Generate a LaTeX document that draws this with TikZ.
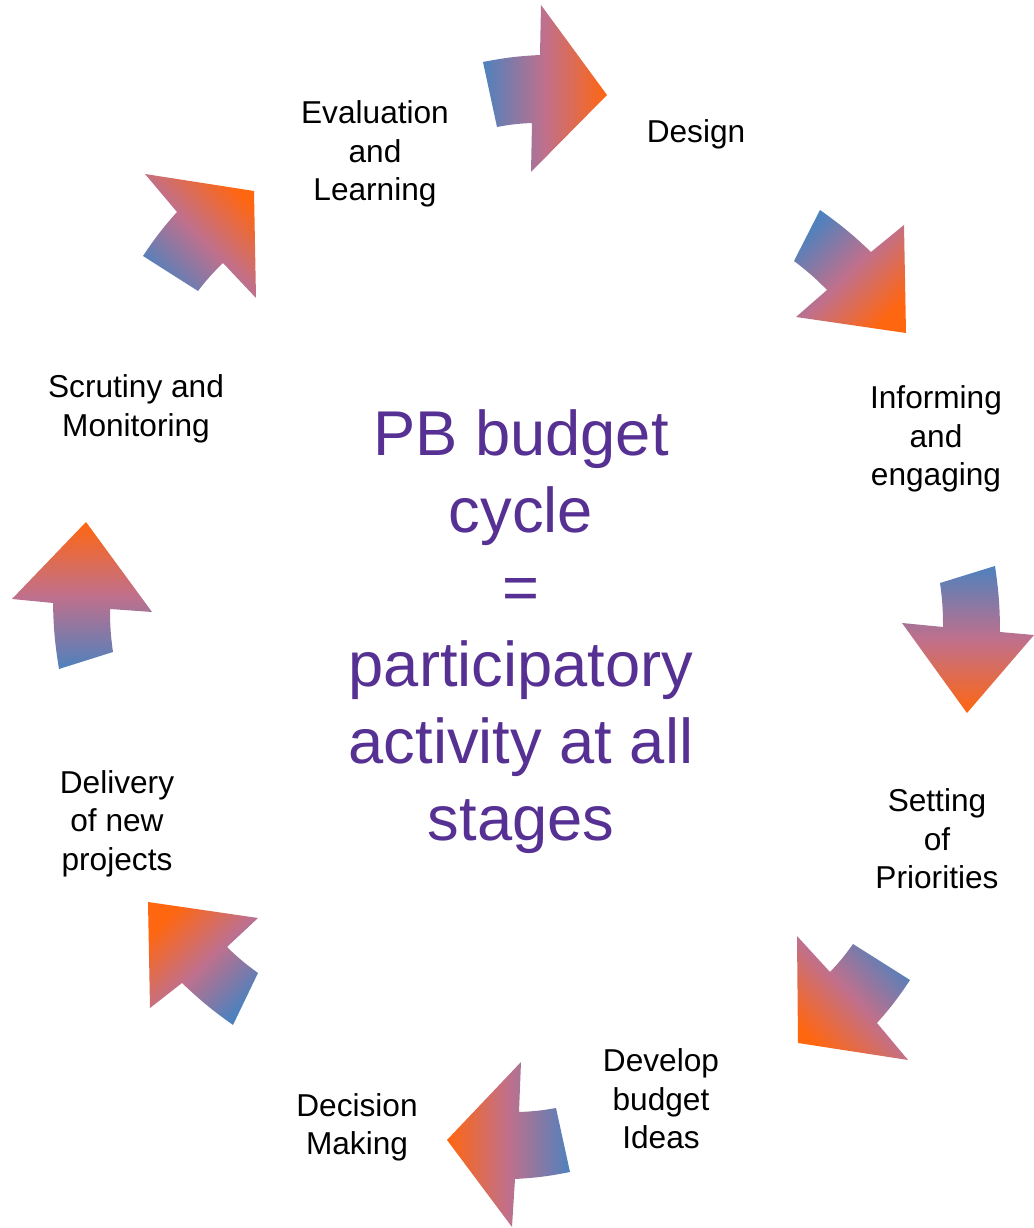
\documentclass[tikz,border=0pt]{standalone}
\usepackage{fontspec}
\setmainfont{Liberation Sans}
\definecolor{cyclepurple}{RGB}{86,48,146}
\definecolor{tailblue}{RGB}{79,129,189}
\definecolor{midpink}{RGB}{192,112,140}
\definecolor{tiporange}{RGB}{255,102,16}
\tikzset{
  stagelabel/.style={align=center, inner sep=0pt, font=\fontsize{22.5}{27.4}\selectfont},
  cyclearrow/.style={top color=tiporange, bottom color=tailblue, middle color=midpink},
}
\begin{document}
\begin{tikzpicture}[x=0.25mm, y=0.25mm]
  \useasboundingbox (0,0) rectangle (1034,1228);

  % Nodes
  \node[stagelabel] (eval) at (375,1074) {Evaluation\\and\\Learning};
  \node[stagelabel] (design) at (696,1094) {Design};
  \node[stagelabel] (inform) at (936,789) {Informing\\and\\engaging};
  \node[stagelabel] (setting) at (937,389) {Setting\\of\\Priorities};
  \node[stagelabel] (develop) at (661,129) {Develop\\budget\\Ideas};
  \node[stagelabel] (decision) at (357,100.5) {Decision\\Making};
  \node[stagelabel] (delivery) at (117,404.5) {Delivery\\of new\\projects};
  \node[stagelabel] (scrutiny) at (136,819) {Scrutiny and\\Monitoring};
  \node[align=center, inner sep=0pt, text=cyclepurple,
        font=\fontsize{45}{54.8}\selectfont] (pbcycle) at (521,596)
        {PB budget\\cycle\\=\\participatory\\activity at all\\stages};

  % Arrows (tail outer, shaft, head, tip, head, shaft, tail inner)
  \path[cyclearrow, shading angle=-90]
    (483,1166) to[bend left=4] (540,1173) -- (541,1223) -- (607,1133)
    -- (531,1056) -- (532,1105) to[bend right=4] (497,1101) -- cycle;
  \path[cyclearrow, shading angle=-134.6]
    (820,1018) to[bend left=4] (871,976) -- (904,1003) -- (906,895)
    -- (796,911) -- (827,938) to[bend right=4] (794,967) -- cycle;
  \path[cyclearrow, shading angle=-180]
    (995,662) to[bend left=4] (1000,596) -- (1034,593) -- (967,515)
    -- (902,605) -- (943,601) to[bend right=4] (940,645) -- cycle;
  \path[cyclearrow, shading angle=134.1]
    (910,248) to[bend left=4] (877,205) -- (908,168) -- (798,185)
    -- (797,292) -- (830,256) to[bend right=4] (853,284) -- cycle;
  \path[cyclearrow, shading angle=90]
    (570,56) to[bend left=4] (515,49) -- (512,1) -- (447,88)
    -- (521,166) -- (519,116) to[bend right=4] (556,120) -- cycle;
  \path[cyclearrow, shading angle=45.1]
    (233,203) to[bend left=4] (182,245) -- (150,220) -- (148,326)
    -- (258,310) -- (227,281) to[bend right=4] (258,255) -- cycle;
  \path[cyclearrow, shading angle=0]
    (59,559) to[bend left=4] (53,625) -- (12,629) -- (86,706)
    -- (152,616) -- (110,619) to[bend right=4] (113,576) -- cycle;
  \path[cyclearrow, shading angle=-45.4]
    (143,972) to[bend left=4] (177,1016) -- (145,1054) -- (254,1037)
    -- (256,930) -- (223,965) to[bend right=4] (198,937) -- cycle;
\end{tikzpicture}
\end{document}
